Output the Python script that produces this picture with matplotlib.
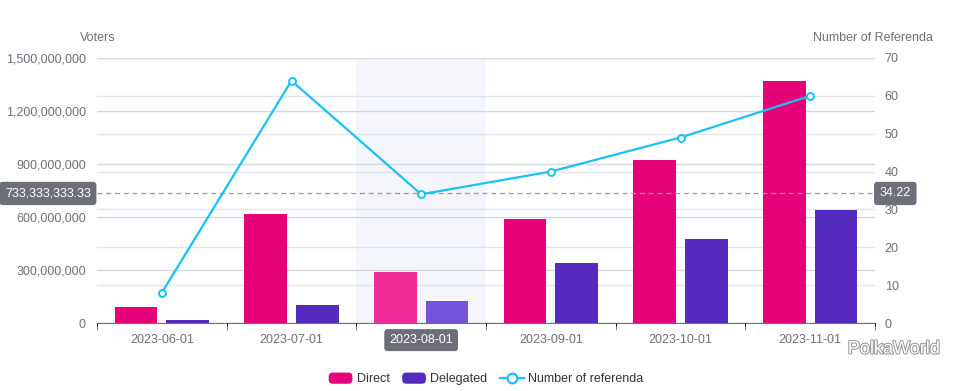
import matplotlib
matplotlib.use("Agg")
import matplotlib.pyplot as plt
import numpy as np
from matplotlib.patches import Patch, FancyBboxPatch
from matplotlib.lines import Line2D
from matplotlib.legend_handler import HandlerPatch
from matplotlib.ticker import FuncFormatter, FixedLocator
import matplotlib.transforms as mtransforms
import matplotlib.patheffects as pe

plt.rcParams['font.family'] = ['Liberation Sans', 'DejaVu Sans']

categories = ["2023-06-01", "2023-07-01", "2023-08-01", "2023-09-01", "2023-10-01", "2023-11-01"]
direct = [90e6, 617e6, 289e6, 589e6, 923e6, 1370e6]
delegated = [17e6, 102e6, 125e6, 340e6, 475e6, 640e6]
referenda = [8, 64, 34, 40, 49, 60]
left_ticks = [0, 300e6, 600e6, 900e6, 1200e6, 1500e6]
right_ticks = [0, 10, 20, 30, 40, 50, 60, 70]
pointer_left = 733333333.33
pointer_right = 34.22
pointer_label_left = "733,333,333.33"
pointer_label_right = "34.22"
hover_index = 2

C_DIRECT = '#e6007a'
C_DELEG = '#552bbf'
C_DIRECT_HI = '#f22b9a'
C_DELEG_HI = '#7653d9'
C_LINE = '#17c2f7'
C_TEXT = '#6e7079'
C_GRID = '#e0e6f1'

fig = plt.figure(figsize=(9.72, 3.91), dpi=100)
rect = [97/972, 1-323/391, (875-97)/972, (323-58)/391]

ax3 = fig.add_axes(rect, zorder=0)
ax = fig.add_axes(rect, zorder=1, sharex=ax3)
ax2 = fig.add_axes(rect, zorder=2, sharex=ax3)
ax.patch.set_visible(False)
ax2.patch.set_visible(False)

x = np.arange(len(categories))
ax3.set_xlim(-0.5, len(categories) - 0.5)

# background layer: hover band + right-axis grid
ax3.axvspan(hover_index - 0.5, hover_index + 0.5, color='#f4f6fb', zorder=0, lw=0)
ax3.set_ylim(0, 70)
ax3.yaxis.set_major_locator(FixedLocator(right_ticks))
ax3.grid(axis='y', color=C_GRID, lw=1)
ax3.set_axisbelow(True)
ax3.tick_params(left=False, labelleft=False, bottom=False, labelbottom=False)
for s in ax3.spines.values():
    s.set_visible(False)

# bars
ax.set_ylim(0, 1500e6)
bw = 0.33
off = 0.2
dcols = [C_DIRECT_HI if i == hover_index else C_DIRECT for i in x]
gcols = [C_DELEG_HI if i == hover_index else C_DELEG for i in x]
ax.bar(x - off, direct, bw, color=dcols, zorder=2)
ax.bar(x + off, delegated, bw, color=gcols, zorder=2)
ax.yaxis.set_major_locator(FixedLocator(left_ticks))
ax.yaxis.set_major_formatter(FuncFormatter(lambda v, p: f"{int(v):,}"))
ax.grid(axis='y', color='#d4d8e0', lw=1)
ax.set_axisbelow(True)
ax.tick_params(axis='y', length=0, labelsize=9, labelcolor=C_TEXT, pad=8)
for s in ['left', 'right', 'top']:
    ax.spines[s].set_visible(False)
ax.spines['bottom'].set_color(C_TEXT)
ax.set_xticks(x)
ax.set_xticklabels(categories)
ax.set_xticks(np.arange(-0.5, len(categories)), minor=True)
ax.tick_params(axis='x', which='major', length=0, labelsize=9, labelcolor=C_TEXT, pad=8)
ax.tick_params(axis='x', which='minor', length=5, color=C_TEXT)
lbl = ax.get_xticklabels()[hover_index]
lbl.set_color('white')
lbl.set_bbox(dict(boxstyle='round,pad=0.4,rounding_size=0.25', fc='#6e7079', ec='none'))

# crosshair
ax.axhline(pointer_left, ls=(0, (4, 3)), color='#9a9a9a', lw=0.9, zorder=3)
tl = mtransforms.blended_transform_factory(ax.transAxes, ax.transData)
ax.text(-0.008, pointer_left, pointer_label_left, transform=tl, ha='right', va='center',
        fontsize=9, color='white', zorder=5, clip_on=False,
        bbox=dict(boxstyle='round,pad=0.45,rounding_size=0.25', fc='#6e7079', ec='none'))

# line
ax2.set_ylim(0, 70)
ax2.plot(x, referenda, color=C_LINE, lw=1.6, marker='o', ms=5, mfc='white',
         mec=C_LINE, mew=1.4, zorder=4)
ax2.yaxis.set_major_locator(FixedLocator(right_ticks))
ax2.yaxis.tick_right()
ax2.tick_params(axis='y', length=0, labelsize=9, labelcolor=C_TEXT, pad=7)
ax2.tick_params(axis='x', bottom=False, labelbottom=False)
for s in ax2.spines.values():
    s.set_visible(False)
tr = mtransforms.blended_transform_factory(ax2.transAxes, ax2.transData)
ax2.text(1.006, pointer_right, pointer_label_right, transform=tr, ha='left', va='center',
         fontsize=9, color='white', zorder=5, clip_on=False,
         bbox=dict(boxstyle='round,pad=0.45,rounding_size=0.25', fc='#6e7079', ec='none'))

# axis titles
fig.text(80/972, 1-38/391, "Voters", fontsize=9, color=C_TEXT, ha='left', va='center')
fig.text(933/972, 1-38/391, "Number of Referenda", fontsize=9, color=C_TEXT, ha='right', va='center')

# legend
class RoundHandler(HandlerPatch):
    def create_artists(self, legend, orig_handle, xdescent, ydescent, width, height, fontsize, trans):
        p = FancyBboxPatch((-xdescent, -ydescent), width, height,
                           boxstyle="round,pad=0,rounding_size=3",
                           fc=orig_handle.get_facecolor(), ec='none', transform=trans)
        return [p]

handles = [Patch(color=C_DIRECT, label='Direct'),
           Patch(color=C_DELEG, label='Delegated'),
           Line2D([], [], color=C_LINE, lw=1.6, marker='o', ms=7, mfc='white', mec=C_LINE,
                  mew=1.6, label='Number of referenda')]
leg = fig.legend(handles=handles, loc='center', bbox_to_anchor=(0.5, 1-379/391), ncol=3,
                 frameon=False, fontsize=9, handlelength=1.9, handleheight=1.0,
                 handletextpad=0.35, columnspacing=1.0,
                 handler_map={Patch: RoundHandler()})
for t in leg.get_texts():
    t.set_color('#333333')

# watermark
fig.text(940/972, 1-349/391, "PolkaWorld", fontsize=13, color='white', ha='right', va='center',
         path_effects=[pe.withStroke(linewidth=1.5, foreground='#9a9a9a')], zorder=10)

fig.savefig("out.png", dpi=100)
